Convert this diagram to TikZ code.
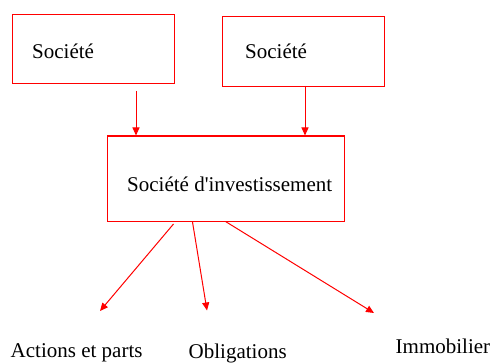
\documentclass[tikz,border=0pt]{standalone}
\usepackage{fontspec}
\setmainfont{Liberation Serif}
\usetikzlibrary{arrows.meta}
\begin{document}
\begin{tikzpicture}[x=1pt,y=-1pt,
  box/.style={draw=red,line width=1.2pt,inner sep=0pt,anchor=north west},
  lbl/.style={anchor=base west,inner sep=0pt,font=\fontsize{21}{24}\selectfont},
  arr/.style={draw=red,line width=1pt,-{Triangle[length=8pt,width=7pt]}}]
\useasboundingbox (0,0) rectangle (494,363);
% boxes
\node[box,minimum width=162pt,minimum height=69pt] (b1) at (12,14) {};
\node[box,minimum width=162pt,minimum height=70pt] (b2) at (222,16) {};
\node[box,minimum width=237pt,minimum height=85pt] (b3) at (107,135.5) {};
% texts
\node[lbl] (t1) at (32,59) {Société};
\node[lbl] (t2) at (245,58.5) {Société};
\node[lbl] (t3) at (127,191) {Société d\textquotesingle investissement};
\node[lbl] (a1) at (10.5,357.5) {Actions et parts};
\node[lbl] (a2) at (188.5,358) {Obligations};
\node[lbl] (a3) at (395.5,353.5) {Immobilier};
% connector ends
\coordinate (s1) at (136,91);
\coordinate (s2) at (305,86);
\coordinate (d1) at (173.5,224);
\coordinate (d2) at (192.5,222);
\coordinate (d3) at (225.5,221.5);
\coordinate (e1) at (100,311);
\coordinate (e2) at (207,310.5);
\coordinate (e3) at (374,313);
% connectors
\draw[arr] (s1) -- (s1 |- b3.north);
\draw[arr] (s2) -- (s2 |- b3.north);
\draw[arr] (d1) -- (e1);
\draw[arr] (d2) -- (e2);
\draw[arr] (d3) -- (e3);
\end{tikzpicture}
\end{document}
